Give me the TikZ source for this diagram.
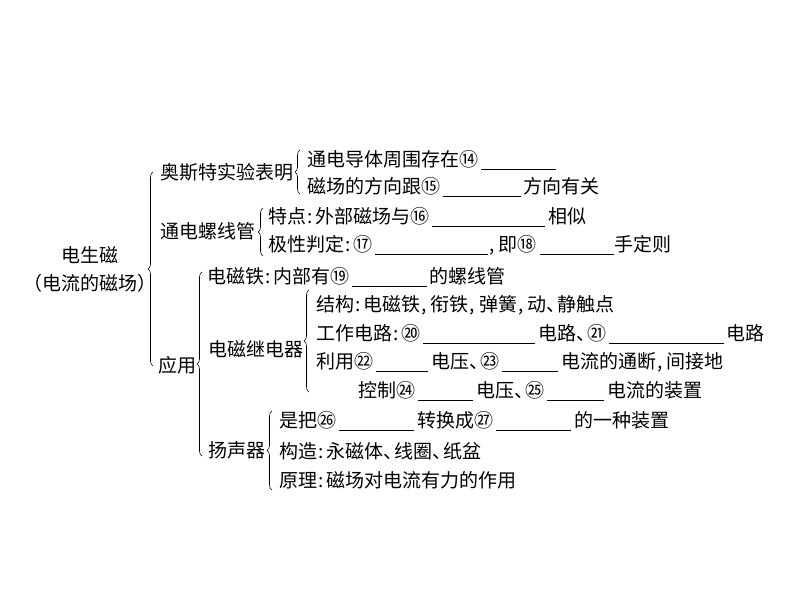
\documentclass[tikz,border=0pt]{standalone}
\usepackage{fontspec}
\setmainfont{Noto Sans CJK SC}
\usetikzlibrary{decorations.pathreplacing}
\newcommand{\blank}[1]{\rule[-4pt]{#1pt}{0.7pt}}
\newcommand{\cp}{\kern1pt:\kern3pt}
\newcommand{\cm}{\kern1pt,\kern4pt}
\newcommand{\dn}{、\kern-8pt}

\begin{document}
\begin{tikzpicture}[x=1pt, y=-1pt,
    every node/.style={inner sep=0pt, anchor=west, font=\fontsize{19}{28}\selectfont},
    br/.style={decorate, decoration={brace, amplitude=5pt}, line width=0.6pt}]
    \useasboundingbox (0,0) rectangle (794,596);

    % root
    \node[anchor=center, align=center] (root) at (90,269) {电生磁\\（电流的磁场）};
    \draw[br] (153,366) -- (153,172);

    % 奥斯特实验
    \node (oe) at (160,172) {奥斯特实验表明};
    \draw[br] (300,194) -- (300,150);
    \node (oe1) at (307,160) {通电导体周围存在⑭\kern3pt\blank{75}};
    \node (oe2) at (307,187) {磁场的方向跟⑮\kern3pt\blank{78}\kern2pt 方向有关};

    % 通电螺线管
    \node (sol) at (160,231) {通电螺线管};
    \draw[br] (263,256) -- (263,208);
    \node (sol1) at (268,217) {特点\cp 外部磁场与⑯\kern3pt\blank{113}\kern3pt 相似};
    \node (sol2) at (268,245) {极性判定\cp ⑰\kern3pt\blank{113}\cm 即⑱\kern3pt\blank{74}\kern1pt 手定则};

    % 应用
    \node (app) at (158,365) {应用};
    \draw[br] (202,456) -- (202,272);
    \node (mag) at (207,277) {电磁铁\cp 内部有⑲\kern3pt\blank{75}\kern2pt 的螺线管};

    \node (rel) at (208,349) {电磁继电器};
    \draw[br] (309,392) -- (309,290);
    \node (rel1) at (316,305) {结构\cp 电磁铁\cm 衔铁\cm 弹簧\cm 动\dn 静触点};
    \node (rel2) at (316,334) {工作电路\cp ⑳\kern3pt\blank{112}\kern3pt 电路\dn ㉑\kern3pt\blank{115}\kern2pt 电路};
    \node (rel3) at (316,362) {利用㉒\kern3pt\blank{52}\kern3pt 电压\dn ㉓\kern3pt\blank{56}\kern3pt 电流的通断\cm 间接地};
    \node (rel4) at (358,391) {控制㉔\kern3pt\blank{55}\kern3pt 电压\dn ㉕\kern3pt\blank{57}\kern3pt 电流的装置};

    \node (spk) at (208,450) {扬声器};
    \draw[br] (272,490) -- (272,411);
    \node (spk1) at (279,421) {是把㉖\kern3pt\blank{75}\kern3pt 转换成㉗\kern3pt\blank{75}\kern3pt 的一种装置};
    \node (spk2) at (279,451) {构造\cp 永磁体\dn 线圈\dn 纸盆};
    \node (spk3) at (279,480) {原理\cp 磁场对电流有力的作用};
\end{tikzpicture}
\end{document}
